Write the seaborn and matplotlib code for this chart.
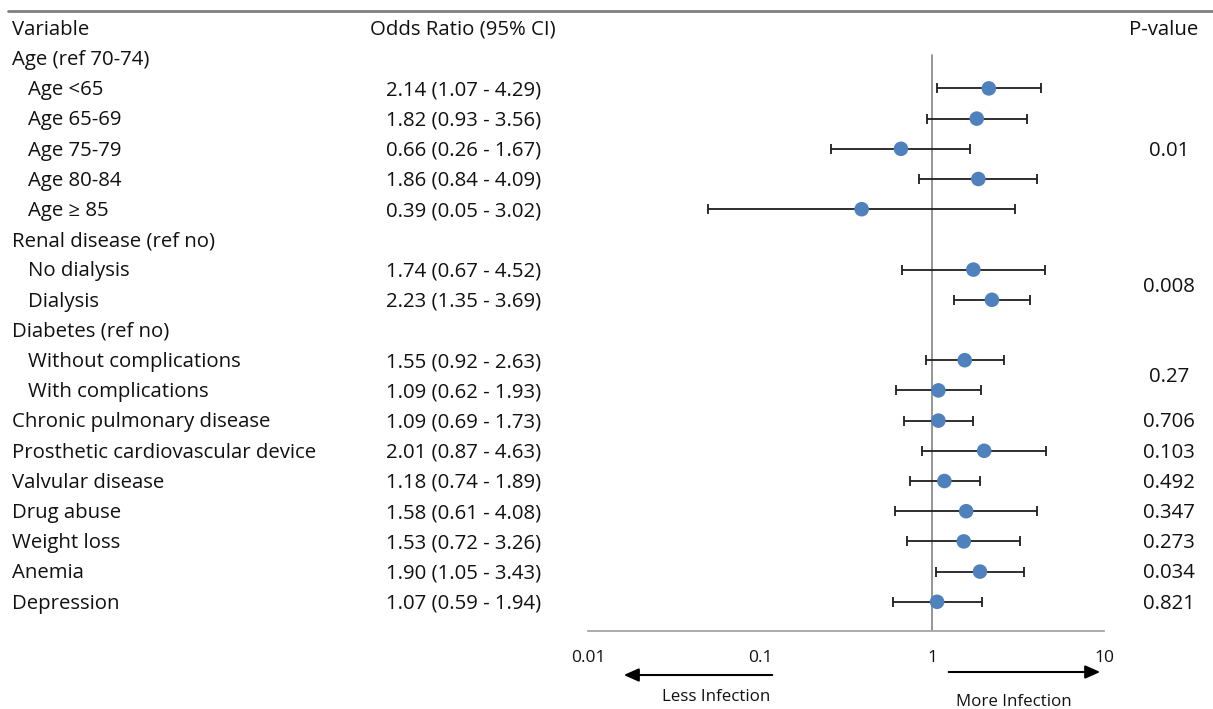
import matplotlib
matplotlib.use("Agg")
import matplotlib.pyplot as plt
import matplotlib.transforms as mtransforms
from matplotlib.lines import Line2D
from matplotlib.patches import FancyArrowPatch
import seaborn as sns
import pandas as pd
import numpy as np

labels = ["Age (ref 70-74)", "Age <65", "Age 65-69", "Age 75-79", "Age 80-84", "Age \u2265 85",
          "Renal disease (ref no)", "No dialysis", "Dialysis",
          "Diabetes (ref no)", "Without complications", "With complications",
          "Chronic pulmonary disease", "Prosthetic cardiovascular device", "Valvular disease",
          "Drug abuse", "Weight loss", "Anemia", "Depression"]
indent = [0, 1, 1, 1, 1, 1, 0, 1, 1, 0, 1, 1, 0, 0, 0, 0, 0, 0, 0]
odds = [None, 2.14, 1.82, 0.66, 1.86, 0.39, None, 1.74, 2.23, None, 1.55, 1.09,
        1.09, 2.01, 1.18, 1.58, 1.53, 1.90, 1.07]
lower = [None, 1.07, 0.93, 0.26, 0.84, 0.05, None, 0.67, 1.35, None, 0.92, 0.62,
         0.69, 0.87, 0.74, 0.61, 0.72, 1.05, 0.59]
upper = [None, 4.29, 3.56, 1.67, 4.09, 3.02, None, 4.52, 3.69, None, 2.63, 1.93,
         1.73, 4.63, 1.89, 4.08, 3.26, 3.43, 1.94]
pvalues = ["0.01", "0.008", "0.27", "0.706", "0.103", "0.492", "0.347", "0.273", "0.034", "0.821"]
pvalue_rows = [4, 8.5, 11.5, 13, 14, 15, 16, 17, 18, 19]
xticks = [0.01, 0.1, 1, 10]
xticklabels = ["0.01", "0.1", "1", "10"]

sns.set_style("white")
plt.rcParams['font.family'] = ['Open Sans', 'DejaVu Sans']

W, H = 1213, 709
fig = plt.figure(figsize=(W / 100, H / 100), dpi=100)

def fx(px):
    return px / W

def fy(py):
    return 1 - py / H

ax = fig.add_axes([fx(588), fy(631), fx(1104) - fx(588), fy(3) - fy(631)])
row0_px, row_step = 28.0, 30.2
r_bottom = (631 - row0_px) / row_step
r_top = (3 - row0_px) / row_step

rows = np.arange(1, len(labels) + 1)
df = pd.DataFrame({"row": rows, "label": labels, "odds": odds, "lower": lower, "upper": upper})
dfp = df.dropna(subset=["odds"]).copy()

ax.set_xscale("log")
ax.set_xlim(0.01, 10)
ax.set_ylim(r_bottom, r_top)

# reference line at 1
ax.plot([1, 1], [0.9, r_bottom], color="#8c8c8c", lw=1.3, zorder=1)

ax.errorbar(dfp["odds"], dfp["row"],
            xerr=[dfp["odds"] - dfp["lower"], dfp["upper"] - dfp["odds"]],
            fmt="none", ecolor="#1f1f1f", elinewidth=1.3, capsize=3.6, capthick=1.3, zorder=2)
sns.scatterplot(data=dfp, x="odds", y="row", ax=ax, s=110, color="#4f81bd",
                edgecolor="none", zorder=3, legend=False)
ax.set_xlabel("")
ax.set_ylabel("")

for s in ["top", "right", "left"]:
    ax.spines[s].set_visible(False)
ax.spines["bottom"].set_color("#a6a6a6")
ax.spines["bottom"].set_linewidth(1.3)
ax.set_yticks([])
ax.set_xticks(xticks)
ax.set_xticklabels(xticklabels)
ax.xaxis.set_minor_locator(matplotlib.ticker.NullLocator())
ax.tick_params(axis="x", direction="out", length=5, width=1.3, color="#a6a6a6",
               pad=9, labelsize=12.5, labelcolor="#111111")
ax.patch.set_alpha(0)

fs = 14.7
tcol = "#111111"
dy = 0.06
blend = mtransforms.blended_transform_factory(fig.transFigure, ax.transData)

ax.text(fx(12), dy, "Variable", transform=blend, ha="left", va="center", fontsize=fs, color=tcol, clip_on=False)
ax.text(fx(463), dy, "Odds Ratio (95% CI)", transform=blend, ha="center", va="center", fontsize=fs, color=tcol, clip_on=False)
ax.text(fx(1164), dy, "P-value", transform=blend, ha="center", va="center", fontsize=fs, color=tcol, clip_on=False)

for r, lab, ind, o, lo, up in zip(rows, labels, indent, odds, lower, upper):
    ax.text(fx(12 + 16 * ind), r + dy, lab, transform=blend, ha="left", va="center",
            fontsize=fs, color=tcol, clip_on=False)
    if o is not None:
        ax.text(fx(464), r + dy, f"{o:.2f} ({lo:.2f} - {up:.2f})", transform=blend,
                ha="center", va="center", fontsize=fs, color=tcol, clip_on=False)

for r, p in zip(pvalue_rows, pvalues):
    ax.text(fx(1169), r + dy, p, transform=blend, ha="center", va="center",
            fontsize=fs, color=tcol, clip_on=False)

# top rule
fig.add_artist(Line2D([fx(8), 1], [fy(11), fy(11)], color="#7f7f7f", lw=2.0, transform=fig.transFigure))

# direction arrows
fig.add_artist(FancyArrowPatch((fx(775), fy(675)), (fx(621), fy(675)),
               transform=fig.transFigure, arrowstyle="-|>,head_length=9,head_width=4",
               color="black", lw=1.5, mutation_scale=1))
fig.add_artist(FancyArrowPatch((fx(946), fy(672)), (fx(1103), fy(672)),
               transform=fig.transFigure, arrowstyle="-|>,head_length=9,head_width=4",
               color="black", lw=1.5, mutation_scale=1))
fig.text(fx(716), fy(697), "Less Infection", ha="center", va="center", fontsize=12.2, color=tcol)
fig.text(fx(1014), fy(702), "More Infection", ha="center", va="center", fontsize=12.2, color=tcol)

fig.savefig("out.png", dpi=100, facecolor="white")
